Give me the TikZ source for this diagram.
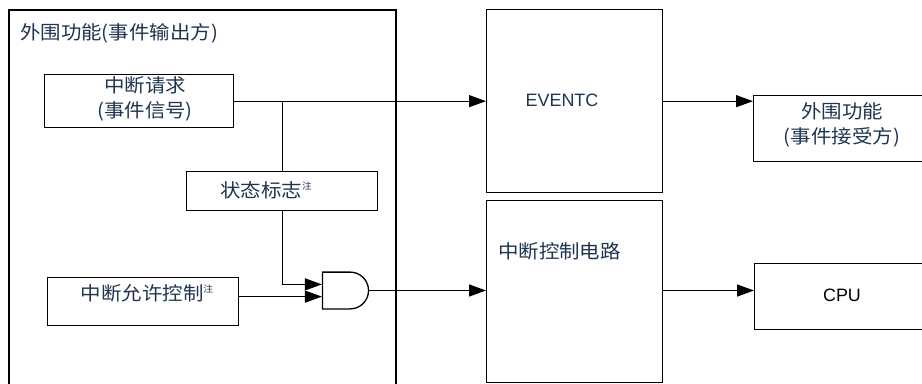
\documentclass[tikz,border=0pt]{standalone}
\usepackage{fontspec}
\setmainfont{Liberation Sans}
\newfontfamily\cjk[FakeStretch=1.08]{Noto Sans CJK SC}
\usetikzlibrary{calc}
\usetikzlibrary{positioning}
\usetikzlibrary{arrows.meta}
\usetikzlibrary{circuits.logic.US}
\definecolor{txtblue}{RGB}{31,52,79}
\newcommand{\notemark}{\raisebox{8bp}{\fontsize{9}{9}\selectfont 注}}

\begin{document}
\begin{tikzpicture}[x=1bp,y=-1bp,>={Triangle[length=17bp,width=12bp]},
	  box/.style={draw,rectangle,line width=1.3bp,inner sep=0pt},
	  lbl/.style={font=\cjk\fontsize{19}{25}\selectfont,text=txtblue,align=center,inner sep=0pt},
	  wire/.style={line width=1.3bp}]

	  \useasboundingbox (0,0) rectangle (922,383);

	  % boxes
	  \node[box, line width=2.2bp, minimum width=387bp, minimum height=395bp, anchor=north west] (periph) at (8,9) {};
	  \node[box, minimum width=189bp, minimum height=53bp, anchor=north west] (req) at (44,74) {};
	  \node[box, minimum width=191bp, minimum height=39bp, anchor=north west] (flag) at (186,171) {};
	  \node[box, minimum width=191bp, minimum height=48bp, anchor=north west] (enable) at (47,277) {};
	  \node[box, minimum width=176bp, minimum height=183bp, anchor=north west] (eventc) at (486,9) {};
	  \node[box, minimum width=176bp, minimum height=182bp, anchor=north west] (intctl) at (486,200) {};
	  \node[box, minimum width=190bp, minimum height=66bp, anchor=north west] (sink) at (753,95) {};
	  \node[box, minimum width=190bp, minimum height=66bp, anchor=north west] (cpu) at (754,263) {};
	  \node[and gate US, draw, line width=1.3bp, logic gate inputs=nn, inner sep=0pt,
	        minimum height=35bp, minimum width=46bp] (and) at (344,290.5) {};

	  % texts
	  \node[lbl, anchor=west] (title) at (20,33) {外围功能(事件输出方)};
	  \node[lbl] (reqtxt) at (145,99) {中断请求\\(事件信号)};
	  \node[lbl] (flagtxt) at (266,190) {状态标志\notemark};
	  \node[lbl] (enabletxt) at (147,293) {中断允许控制\notemark};
	  \node[lbl, font=\fontsize{18}{22}\selectfont] (eventctxt) at (562,100) {EVENTC};
	  \node[lbl, anchor=west] (intctltxt) at (498,251) {中断控制电路};
	  \node[lbl] (sinktxt) at (842,124.5) {外围功能\\(事件接受方)};
	  \node[lbl, font=\fontsize{18}{22}\selectfont, text=black] (cputxt) at (842,295) {CPU};

	  % connectors
	  \draw[wire,->] (req.east) -- (req.east -| eventc.west);
	  \draw[wire] (flag.north |- req.east) -- (flag.north);
	  \draw[wire,->] (flag.south) |- (and.input 1);
	  \draw[wire,->] (and.input 2 -| enable.east) -- (and.input 2);
	  \draw[wire,->] (and.output) -- (and.output -| intctl.west);
	  \draw[wire,->] (eventc.east) -- (eventc.east -| sink.west);
	  \draw[wire,->] (and.output -| intctl.east) -- (and.output -| cpu.west);
	\end{tikzpicture}
\end{document}
